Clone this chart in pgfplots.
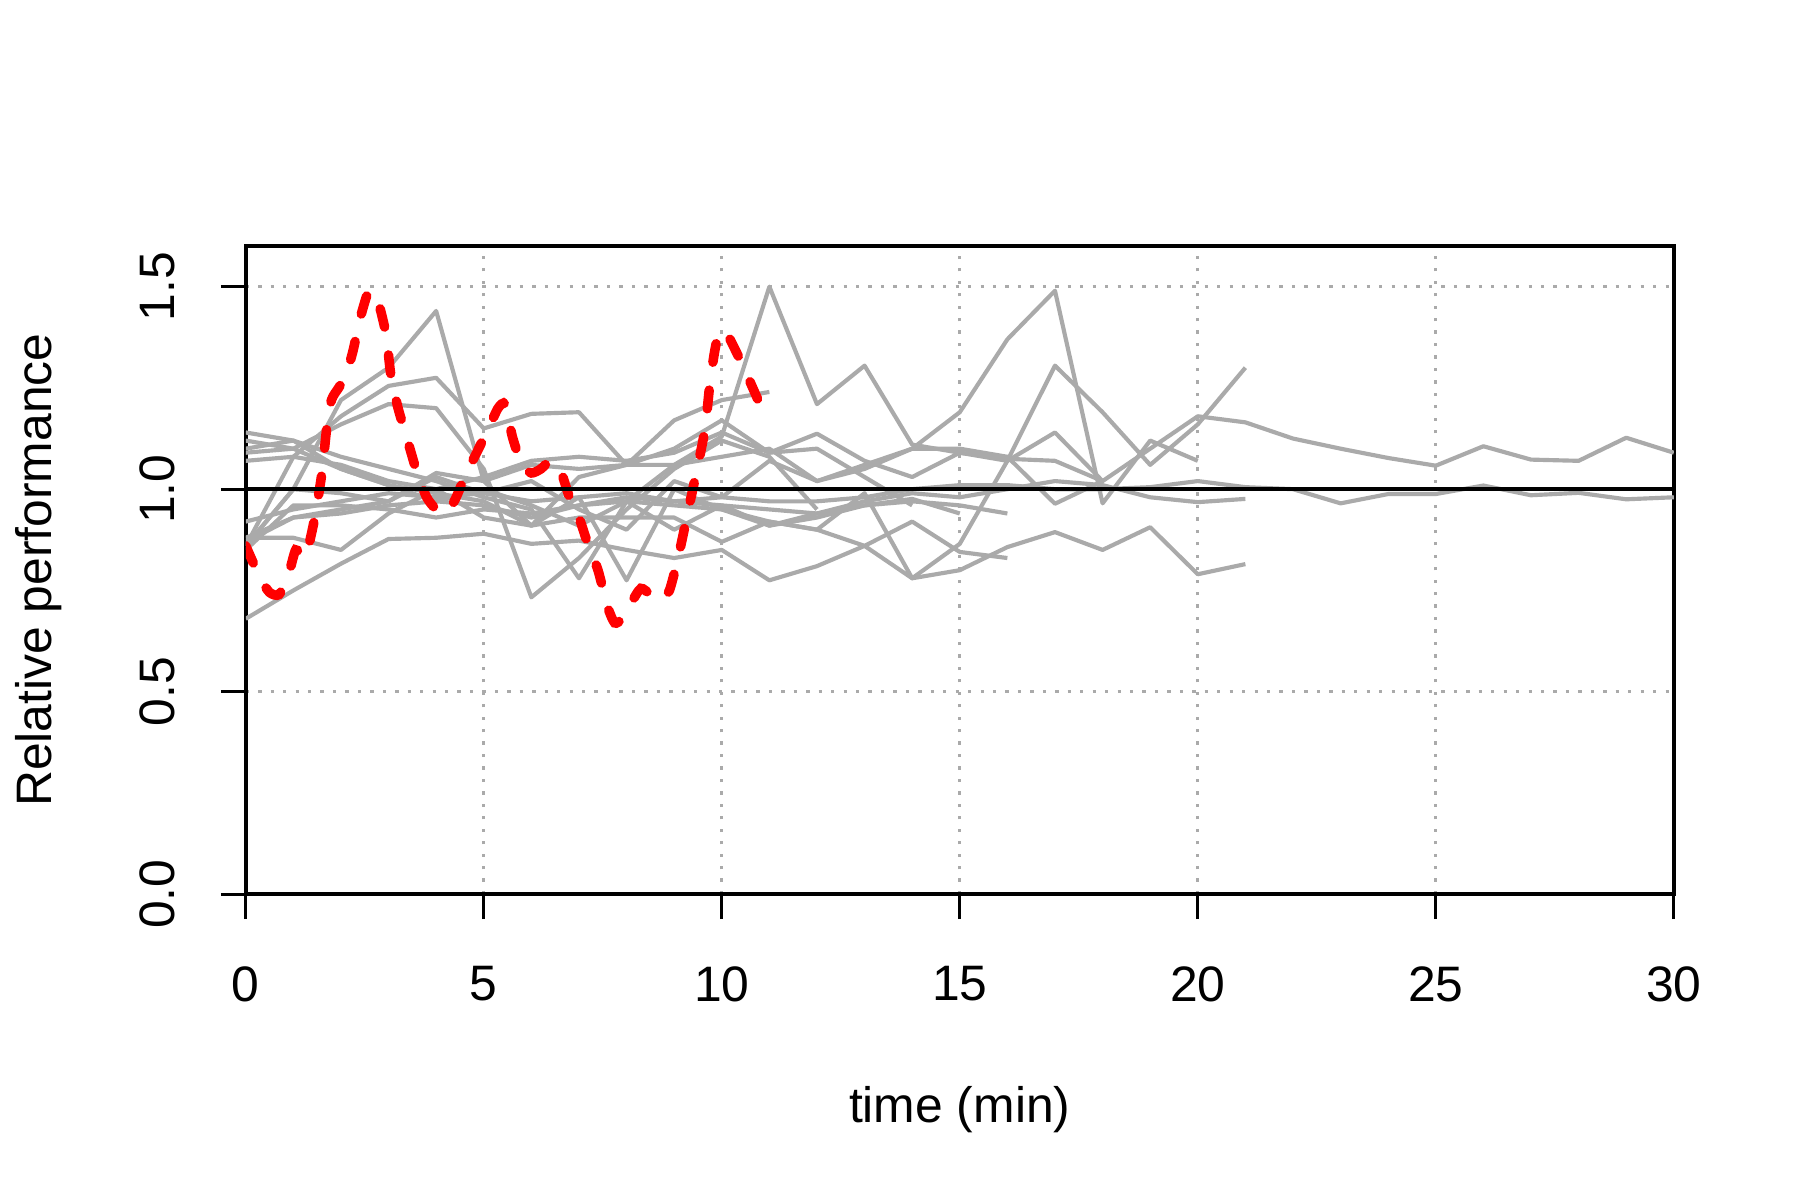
\documentclass[border=0pt]{standalone}
\usepackage{fontspec}
\setmainfont{Liberation Sans}
\usepackage{pgfplots}
\pgfplotsset{compat=1.18}
\definecolor{lg}{RGB}{170,170,170}
\begin{document}
\fontsize{12}{14}\selectfont
\begin{tikzpicture}
\useasboundingbox (-59.2pt,-73.7pt) rectangle (374.4pt,215.4pt);
\begin{axis}[
  at={(0,0)}, anchor=south west,
  scale only axis, width=344pt, height=156.1pt,
  xmin=0, xmax=30, ymin=0, ymax=1.6,
  xtick={0,5,...,30}, ytick={0,0.5,1,1.5},
  /pgf/number format/assume math mode=true,
  yticklabel={\pgfmathprintnumber[fixed,fixed zerofill,precision=1]{\tick}},
  tick align=outside, major tick length=6pt,
  tick style={black, line width=0.8pt},
  xtick pos=bottom, ytick pos=left,
  axis line style={black, line width=1pt},
  xticklabel style={anchor=center, yshift=-15.6pt},
  yticklabel style={xshift=-15.2pt, rotate=90, anchor=center},
  grid=major,
  grid style={lg, line width=0.8pt, dash pattern=on 0.8pt off 2.2pt},
  every axis x label/.style={at={(axis description cs:0.5,0)}, anchor=center, yshift=-52pt},
  every axis y label/.style={at={(axis description cs:0,0.5)}, xshift=-50pt, rotate=90, anchor=center},
  xlabel={time (min)}, ylabel={Relative performance},
  clip=true,
  gl/.style={lg, line width=1pt, line join=round, no markers, solid},
]
% S1
\addplot[gl] coordinates {(0,1.12)(1,1.10)(2,1.05)(3,1.01)(4,0.97)(5,1.00)(6,0.96)(7,0.91)(8,0.97)(9,1.06)(10,1.13)(11,1.50)(12,1.21)(13,1.305)(14,1.11)(15,1.09)(16,1.075)(17,1.07)(18,1.02)(19,1.10)(20,1.18)(21,1.165)(22,1.125)(23,1.10)(24,1.077)(25,1.058)(26,1.106)(27,1.073)(28,1.07)(29,1.127)(30,1.09)};
% S2
\addplot[gl] coordinates {(0,0.92)(1,0.95)(2,0.97)(3,0.99)(4,0.98)(5,0.99)(6,0.97)(7,0.98)(8,0.99)(9,0.97)(10,0.98)(11,0.97)(12,0.97)(13,0.98)(14,1.00)(15,1.01)(16,1.01)(17,1.00)(18,1.00)(19,1.005)(20,1.02)(21,1.005)(22,1.00)(23,0.965)(24,0.988)(25,0.988)(26,1.009)(27,0.985)(28,0.991)(29,0.975)(30,0.98)};
% S3
\addplot[gl] coordinates {(0,0.85)(1,0.96)(2,0.96)(3,0.95)(4,0.93)(5,0.95)(6,0.94)(7,0.96)(8,0.98)(9,0.97)(10,0.96)(11,0.95)(12,0.94)(13,0.97)(14,0.99)(15,0.98)(16,1.00)(17,1.02)(18,1.01)(19,0.98)(20,0.968)(21,0.976)};
% S4
\addplot[gl] coordinates {(0,0.68)(1,0.75)(2,0.816)(3,0.877)(4,0.88)(5,0.89)(6,0.865)(7,0.873)(8,0.85)(9,0.83)(10,0.85)(11,0.775)(12,0.81)(13,0.86)(14,0.78)(15,0.80)(16,0.857)(17,0.894)(18,0.85)(19,0.906)(20,0.79)(21,0.815)};
% S5
\addplot[gl] coordinates {(0,1.10)(1,1.12)(2,1.05)(3,1.01)(4,0.99)(5,0.97)(6,0.91)(7,0.98)(8,0.775)(9,1.00)(10,0.95)(11,0.92)(12,0.90)(13,0.99)(14,0.78)(15,0.865)(16,1.07)(17,1.305)(18,1.19)(19,1.06)(20,1.16)(21,1.30)};
% S6
\addplot[gl] coordinates {(0,0.87)(1,0.93)(2,0.95)(3,0.97)(4,1.03)(5,0.99)(6,1.02)(7,0.95)(8,0.90)(9,1.02)(10,0.98)(11,1.07)(12,1.02)(13,1.05)(14,1.10)(15,1.19)(16,1.37)(17,1.49)(18,0.965)(19,1.12)(20,1.07)};
% S7
\addplot[gl] coordinates {(0,0.88)(1,0.93)(2,0.94)(3,0.96)(4,0.97)(5,0.96)(6,0.93)(7,0.96)(8,0.97)(9,0.96)(10,0.95)(11,0.91)(12,0.93)(13,0.96)(14,0.97)(15,0.96)(16,0.94)};
% S8
\addplot[gl] coordinates {(0,0.88)(1,0.88)(2,0.85)(3,0.94)(4,1.00)(5,0.93)(6,0.91)(7,0.93)(8,0.93)(9,0.93)(10,0.87)(11,0.92)(12,0.90)(13,0.86)(14,0.92)(15,0.845)(16,0.83)};
% S9
\addplot[gl] coordinates {(0,1.07)(1,1.08)(2,1.06)(3,1.02)(4,1.00)(5,1.03)(6,1.07)(7,1.08)(8,1.07)(9,1.09)(10,1.14)(11,1.09)(12,1.137)(13,1.07)(14,1.03)(15,1.09)(16,1.07)(17,1.14)(18,1.02)};
% S10
\addplot[gl] coordinates {(0,0.86)(1,1.00)(2,0.99)(3,0.97)(4,1.04)(5,1.02)(6,1.06)(7,1.05)(8,1.06)(9,1.06)(10,1.08)(11,1.10)(12,1.02)(13,1.06)(14,1.10)(15,1.10)(16,1.08)(17,0.964)(18,1.02)};
% S11
\addplot[gl] coordinates {(0,1.14)(1,1.12)(2,1.08)(3,1.05)(4,1.02)(5,0.98)(6,0.95)(7,0.78)(8,0.97)(9,0.90)(10,0.96)(11,0.91)(12,0.94)(13,0.96)(14,0.976)(15,0.94)};
% S12
\addplot[gl] coordinates {(0,0.86)(1,1.00)(2,1.22)(3,1.30)(4,1.44)(5,1.02)(6,0.91)(7,1.03)(8,1.06)(9,1.10)(10,1.17)(11,1.09)(12,1.10)(13,1.03)(14,0.96)};
% S13
\addplot[gl] coordinates {(0,0.86)(1,1.08)(2,1.18)(3,1.255)(4,1.275)(5,1.15)(6,1.186)(7,1.19)(8,1.06)(9,1.17)(10,1.22)(11,1.24)};
% S14
\addplot[gl] coordinates {(0,1.09)(1,1.10)(2,1.16)(3,1.21)(4,1.20)(5,1.05)(6,0.733)(7,0.83)(8,0.95)(9,1.05)(10,1.12)(11,1.08)(12,0.95)};
% red dashed curve
\addplot[red, line width=2.3pt, line cap=round, no markers, dash pattern=on 4.5pt off 6.8pt, smooth, tension=0.4] coordinates {
(0,0.86)(0.15,0.82)(0.3,0.78)(0.5,0.745)(0.7,0.74)(0.9,0.79)(1.05,0.85)(1.2,0.83)(1.3,0.85)(1.45,0.93)(1.6,1.04)(1.7,1.15)(1.8,1.22)(1.95,1.25)(2.1,1.28)(2.25,1.34)(2.4,1.42)(2.55,1.48)(2.65,1.49)(2.8,1.455)(2.95,1.38)(3.05,1.28)(3.2,1.2)(3.4,1.12)(3.6,1.04)(3.8,0.98)(4.0,0.95)(4.2,0.94)(4.4,0.975)(4.6,1.03)(4.85,1.09)(5.1,1.15)(5.3,1.2)(5.45,1.21)(5.6,1.13)(5.8,1.06)(6.0,1.04)(6.2,1.05)(6.4,1.07)(6.6,1.05)(6.8,0.98)(7.0,0.93)(7.2,0.86)(7.4,0.8)(7.6,0.71)(7.75,0.67)(7.9,0.68)(8.1,0.72)(8.3,0.755)(8.5,0.74)(8.7,0.725)(8.9,0.75)(9.1,0.84)(9.3,0.95)(9.5,1.06)(9.65,1.15)(9.75,1.26)(9.85,1.34)(9.95,1.39)(10.1,1.385)(10.3,1.34)(10.5,1.29)(10.8,1.21)};
% reference line
\addplot[black, line width=1pt, no markers, solid] coordinates {(0,1)(30,1)};
\end{axis}
\end{tikzpicture}
\end{document}
